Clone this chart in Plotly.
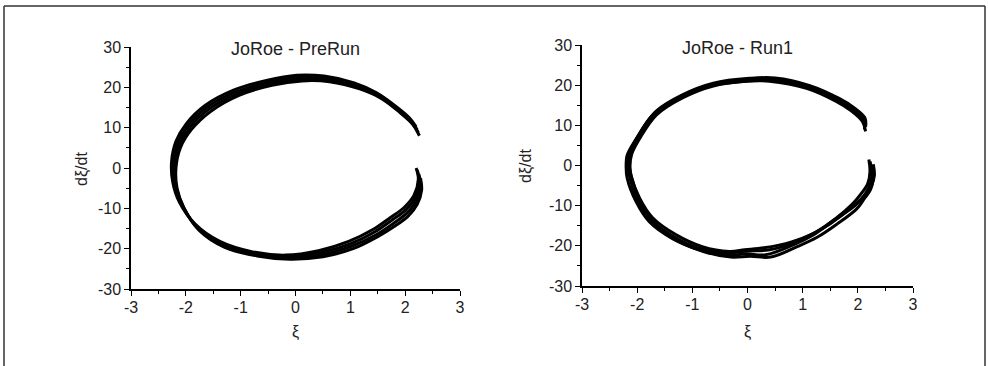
import plotly.graph_objects as go

# ---- data: left panel (PreRun), each list is one cycle ----
L1x = [2.22, 2.26, 2.18, 2.0, 1.75, 1.45, 1.0, 0.45, -0.15, -0.75, -1.35, -1.8, -2.08, -2.2, -2.23, -2.15, -1.96, -1.62, -1.1, -0.5, 0.05, 0.55, 1.1, 1.5, 1.85, 2.1, 2.22]
L1v = [-0.5, -3.5, -7.5, -10.5, -13.0, -15.8, -18.8, -21.0, -22.0, -21.2, -18.8, -14.5, -9.0, -4.0, 1.0, 6.0, 10.5, 15.0, 18.8, 21.2, 22.5, 22.3, 20.6, 18.2, 14.8, 11.8, 9.5]
L2x = [2.25, 2.28, 2.2, 2.03, 1.78, 1.48, 1.02, 0.48, -0.12, -0.72, -1.32, -1.78, -2.05, -2.18, -2.2, -2.12, -1.93, -1.58, -1.06, -0.46, 0.1, 0.6, 1.15, 1.55, 1.88, 2.12, 2.24]
L2v = [-1.5, -4.5, -8.2, -11.2, -13.8, -16.5, -19.4, -21.5, -22.3, -21.5, -19.3, -15.0, -9.5, -4.5, 0.5, 5.5, 10.0, 14.6, 18.4, 20.8, 22.0, 21.8, 20.0, 17.6, 14.2, 11.2, 8.8]
L3x = [2.2, 2.24, 2.16, 1.98, 1.72, 1.42, 0.97, 0.42, -0.18, -0.78, -1.38, -1.83, -2.12, -2.24, -2.26, -2.18, -1.99, -1.65, -1.13, -0.53, 0.02, 0.52, 1.07, 1.47, 1.82, 2.08, 2.2]
L3v = [0.0, -2.8, -6.8, -9.8, -12.4, -15.2, -18.2, -20.5, -21.6, -20.8, -18.2, -13.9, -8.4, -3.4, 1.6, 6.6, 11.0, 15.5, 19.3, 21.7, 23.0, 22.8, 21.1, 18.7, 15.4, 12.4, 10.2]
L4x = [2.28, 2.3, 2.22, 2.05, 1.8, 1.5, 1.05, 0.5, -0.1, -0.7, -1.3, -1.76, -2.03, -2.16, -2.18, -2.1, -1.9, -1.55, -1.03, -0.43, 0.12, 0.62, 1.17, 1.57, 1.9, 2.14, 2.26]
L4v = [-2.5, -5.5, -9.0, -12.0, -14.5, -17.0, -20.0, -22.0, -22.6, -21.8, -19.6, -15.4, -10.0, -5.0, 0.0, 5.0, 9.5, 14.0, 18.0, 20.5, 21.6, 21.4, 19.6, 17.2, 13.8, 10.8, 8.0]

# ---- data: right panel (Run1) ----
R1x = [2.2, 2.22, 2.18, 2.05, 1.9, 1.6, 1.25, 0.88, 0.4, 0.0, -0.4, -0.88, -1.35, -1.76, -2.0, -2.14, -2.17, -2.14, -1.98, -1.68, -1.2, -0.65, 0.0, 0.45, 1.1, 1.62, 1.9, 2.1, 2.12]
R1v = [1.5, -1.5, -4.5, -7.2, -9.6, -13.2, -16.5, -19.0, -21.0, -21.3, -21.8, -20.6, -17.6, -13.4, -8.4, -2.6, 0.2, 3.2, 7.3, 13.1, 17.3, 20.2, 21.4, 21.5, 19.6, 16.4, 14.0, 11.5, 9.0]
R2x = [2.28, 2.3, 2.24, 2.12, 1.95, 1.55, 1.2, 0.82, 0.33, -0.03, -0.38, -0.87, -1.36, -1.78, -2.02, -2.18, -2.2, -2.18, -2.02, -1.72, -1.23, -0.68, -0.02, 0.4, 1.07, 1.6, 1.88, 2.08, 2.14]
R2v = [0.3, -2.5, -5.2, -7.5, -10.0, -13.8, -17.2, -19.8, -22.2, -22.0, -22.4, -21.0, -18.2, -14.0, -9.0, -3.2, -0.5, 2.6, 6.6, 12.5, 16.8, 19.8, 21.0, 21.0, 19.2, 16.0, 13.6, 11.0, 8.5]
R3x = [2.22, 2.26, 2.2, 2.08, 1.88, 1.5, 1.18, 0.8, 0.3, -0.05, -0.33, -0.82, -1.3, -1.72, -1.96, -2.12, -2.15, -2.12, -1.96, -1.66, -1.18, -0.62, 0.04, 0.5, 1.13, 1.66, 1.93, 2.13, 2.14]
R3v = [1.0, -2.0, -5.5, -8.0, -10.5, -14.5, -17.0, -19.0, -20.5, -21.0, -21.4, -20.2, -17.2, -13.0, -8.0, -2.2, 0.5, 3.6, 7.8, 13.5, 17.6, 20.5, 21.7, 21.8, 19.9, 16.7, 14.4, 11.8, 9.6]
R4x = [2.26, 2.28, 2.23, 2.12, 1.98, 1.62, 1.27, 0.9, 0.42, 0.05, -0.3, -0.8, -1.28, -1.7, -1.94, -2.1, -2.13, -2.1, -1.95, -1.65, -1.17, -0.62, 0.04, 0.48, 1.12, 1.65, 1.92, 2.1, 2.13]
R4v = [0.0, -3.2, -6.0, -8.2, -10.8, -14.6, -17.8, -20.2, -22.8, -22.6, -22.8, -21.4, -18.6, -14.2, -9.0, -3.0, -0.3, 2.8, 6.8, 12.6, 16.9, 19.8, 21.1, 21.2, 19.3, 16.1, 13.7, 11.1, 10.5]

titles = ["JoRoe - PreRun", "JoRoe - Run1"]
x_ticks = [-3, -2, -1, 0, 1, 2, 3]
x_labels = ["-3", "-2", "-1", "0", "1", "2", "3"]
y_ticks = [-30, -20, -10, 0, 10, 20, 30]
y_labels = ["-30", "-20", "-10", "0", "10", "20", "30"]

W, H = 988, 366
FONT = "Liberation Sans, Arial, sans-serif"

fig = go.Figure()
left = [(L1x, L1v), (L2x, L2v), (L3x, L3v), (L4x, L4v)]
right = [(R1x, R1v), (R2x, R2v), (R3x, R3v), (R4x, R4v)]
for xs, vs in left:
    fig.add_trace(go.Scatter(x=xs, y=vs, mode="lines", xaxis="x", yaxis="y",
                             line=dict(color="black", width=3, shape="spline", smoothing=1.0),
                             showlegend=False, hoverinfo="skip"))
for xs, vs in right:
    fig.add_trace(go.Scatter(x=xs, y=vs, mode="lines", xaxis="x2", yaxis="y2",
                             line=dict(color="black", width=3, shape="spline", smoothing=1.0),
                             showlegend=False, hoverinfo="skip"))

def px_x(p):
    return p / W

def px_y(p):
    return 1 - p / H

axis_common = dict(showgrid=False, zeroline=False, showline=True, linecolor="black", linewidth=1.5,
                   ticks="outside", ticklen=5, tickwidth=1.2, tickcolor="black", automargin=False,
                   tickfont=dict(family=FONT, size=16, color="#222"), mirror=False, fixedrange=True)

fig.update_layout(
    width=W, height=H, margin=dict(l=0, r=0, t=0, b=0, autoexpand=False),
    paper_bgcolor="white", plot_bgcolor="white", showlegend=False,
    xaxis=dict(axis_common, domain=[px_x(131), px_x(460)], range=[-3, 3], tickvals=x_ticks, ticktext=x_labels,
               anchor="y", ticklabelstandoff=-2,
               minor=dict(ticks="outside", dtick=0.5, ticklen=3, tickcolor="black")),
    yaxis=dict(axis_common, domain=[px_y(289), px_y(47)], range=[-30, 30], tickvals=y_ticks, ticktext=y_labels,
               anchor="x", minor=dict(ticks="outside", dtick=5, ticklen=3, tickcolor="black")),
    xaxis2=dict(axis_common, domain=[px_x(582), px_x(913)], range=[-3, 3], tickvals=x_ticks, ticktext=x_labels,
                anchor="y2", ticklabelstandoff=-2,
                minor=dict(ticks="outside", dtick=0.5, ticklen=3, tickcolor="black")),
    yaxis2=dict(axis_common, domain=[px_y(286), px_y(45)], range=[-30, 30], tickvals=y_ticks, ticktext=y_labels,
                anchor="x2", minor=dict(ticks="outside", dtick=5, ticklen=3, tickcolor="black")),
)

ann = []
# panel titles
ann.append(dict(text=titles[0], x=px_x(295), y=px_y(49), xref="paper", yref="paper",
                xanchor="center", yanchor="middle",
                showarrow=False, font=dict(family=FONT, size=18, color="#222")))
ann.append(dict(text=titles[1], x=px_x(737), y=px_y(48), xref="paper", yref="paper",
                xanchor="center", yanchor="middle",
                showarrow=False, font=dict(family=FONT, size=18, color="#222")))
# axis titles
for xc, yc in [(295, 332), (747, 332)]:
    ann.append(dict(text="ξ", x=px_x(xc), y=px_y(yc), xref="paper", yref="paper",
                    xanchor="center", yanchor="middle",
                    showarrow=False, font=dict(family=FONT, size=16, color="#222")))
for xc, yc in [(82, 169), (526, 166)]:
    ann.append(dict(text="dξ/dt", x=px_x(xc), y=px_y(yc), xref="paper", yref="paper",
                    xanchor="center", yanchor="middle",
                    showarrow=False, textangle=-90, font=dict(family=FONT, size=16, color="#222")))
fig.update_layout(annotations=ann)

# outer frame (top, left, right)
frame = dict(type="line", xref="paper", yref="paper", line=dict(color="#333", width=1.5))
fig.update_layout(shapes=[
    dict(frame, x0=px_x(4), x1=px_x(985), y0=px_y(6), y1=px_y(6)),
    dict(frame, x0=px_x(4), x1=px_x(4), y0=px_y(6), y1=0),
    dict(frame, x0=px_x(985), x1=px_x(985), y0=px_y(6), y1=0),
])

fig.write_html("out.html")
